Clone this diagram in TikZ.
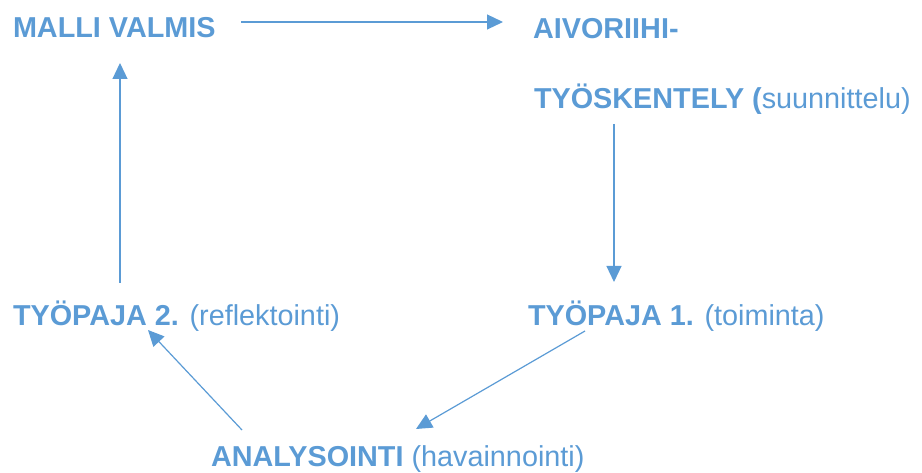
\documentclass[tikz,border=0pt]{standalone}
\usepackage{fontspec}
\setmainfont{Liberation Sans}
\usetikzlibrary{arrows.meta,calc}
\definecolor{cycleblue}{HTML}{5B9BD5}
\begin{document}
\begin{tikzpicture}[x=1pt,y=-1pt,
  label/.style={anchor=base west,inner sep=0pt,outer sep=0pt,text=cycleblue,
    font=\fontsize{28.8}{34}\selectfont},
  flow/.style={draw=cycleblue,line width=1.2pt,
    -{Triangle[length=16pt,width=15pt]}}]
\useasboundingbox (0,0) rectangle (922,473);
% stages of the cycle
\node[label] (malli) at (13,38) {\textbf{MALLI VALMIS}};
\node[label] (aivo)  at (533,39) {\textbf{AIVORIIHI-}};
\node[label] (tyosk) at (534,109) {\textbf{TYÖSKENTELY (}suunnittelu)};
\node[label] (tp1)   at (528,326) {\textbf{TYÖPAJA 1.} (toiminta)};
\node[label] (anal)  at (211,466) {\textbf{ANALYSOINTI} (havainnointi)};
\node[label] (tp2)   at (13,326) {\textbf{TYÖPAJA 2.} (reflektointi)};
% arrows between the stages
\draw[flow] ($(malli.base west)+(228,-16)$) -- ($(aivo.base west)+(-30,-17)$);
\draw[flow] ($(tyosk.base west)+(80,15)$) -- ($(tp1.base west)+(86,-44)$);
\draw[flow] ($(tp1.base west)+(57,5)$) -- ($(anal.base west)+(205,-37)$);
\draw[flow] ($(anal.base west)+(31,-36)$) -- ($(tp2.base west)+(135,4)$);
\draw[flow] ($(tp2.base west)+(107,-43)$) -- ($(malli.base west)+(107,25)$);
\end{tikzpicture}
\end{document}
